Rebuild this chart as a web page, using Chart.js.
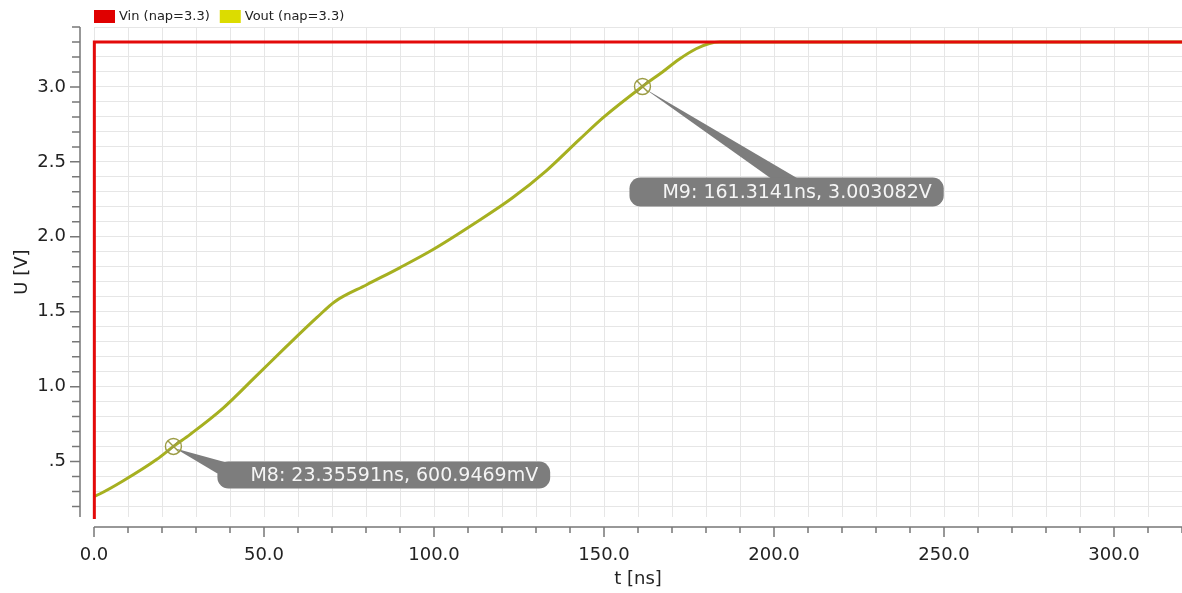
<!DOCTYPE html>
<html>
<head>
<meta charset="utf-8">
<script src="https://cdn.jsdelivr.net/npm/chart.js@4/dist/chart.umd.min.js"></script>
<style>
  html, body { margin: 0; padding: 0; background: #fff; }
  #wrap { width: 1182px; height: 593px; }
</style>
</head>
<body>
<div id="wrap"><canvas id="myChart" width="1182" height="593"></canvas></div>
<script>
// signal data (time in ns, voltage in V)
var vinTime = [0, 0.1, 320];
var vinVolt = [0, 3.3, 3.3];

var voutTime = [0, 1.8, 8.5, 18.5, 23.36, 28.2, 37.9, 47.9, 56.7, 65.5, 70.8, 80.2, 89.9, 99.6, 112,
                123.1, 133, 142.8, 150, 161.3, 167.2, 172.1, 177.1, 181, 184, 200, 250, 320];
var voutVolt = [0.267, 0.285, 0.37, 0.515, 0.601, 0.68, 0.855, 1.075, 1.27, 1.46, 1.567, 1.68, 1.793, 1.913, 2.09,
                2.26, 2.44, 2.65, 2.8, 3.003, 3.1, 3.185, 3.255, 3.29, 3.3, 3.3, 3.3, 3.3];

var seriesLabels = ['Vin (nap=3.3)', 'Vout (nap=3.3)'];

// markers
var markerNames = ['M8', 'M9'];
var markerTime = [23.35591, 161.3141];
var markerVolt = [0.6009469, 3.003082];
var markerText = ['M8: 23.35591ns, 600.9469mV', 'M9: 161.3141ns, 3.003082V'];

function toXY(xs, ys) {
  return xs.map(function (x, i) { return { x: x, y: ys[i] }; });
}

var FONT = '"DejaVu Sans", sans-serif';

var legendPlugin = {
  id: 'topLegend',
  afterDraw: function (chart) {
    var c = chart.ctx;
    var x = chart.chartArea.left;
    c.save();
    c.font = '13px ' + FONT;
    c.textBaseline = 'middle';
    chart.data.datasets.forEach(function (ds) {
      c.fillStyle = ds.legendColor;
      c.fillRect(x, 10, 21, 13);
      c.fillStyle = '#222';
      c.fillText(ds.label, x + 25, 17);
      x += 25 + c.measureText(ds.label).width + 10;
    });
    c.restore();
  }
};

var axisPlugin = {
  id: 'offsetAxes',
  afterDraw: function (chart) {
    var c = chart.ctx, a = chart.chartArea;
    var xs = chart.scales.x, ys = chart.scales.y;
    c.save();
    c.strokeStyle = '#777';
    c.lineWidth = 1.5;
    // y axis
    var ax = a.left - 14;
    c.beginPath();
    c.moveTo(ax, a.top);
    c.lineTo(ax, a.bottom);
    ys.ticks.forEach(function (t) {
      var py = ys.getPixelForValue(t.value);
      var major = Math.abs(t.value * 2 - Math.round(t.value * 2)) < 1e-6;
      c.moveTo(ax - (major ? 10 : 8), py);
      c.lineTo(ax, py);
    });
    c.stroke();
    // x axis
    var ay = a.bottom + 10;
    c.beginPath();
    c.moveTo(a.left, ay);
    c.lineTo(a.right, ay);
    xs.ticks.forEach(function (t) {
      var px = xs.getPixelForValue(t.value);
      var major = Math.abs(t.value % 50) < 1e-6;
      c.moveTo(px, ay);
      c.lineTo(px, ay + (major ? 10 : 6));
    });
    c.stroke();
    c.restore();
  }
};

var markerPlugin = {
  id: 'markers',
  afterDatasetsDraw: function (chart) {
    var c = chart.ctx;
    var xs = chart.scales.x, ys = chart.scales.y;
    c.save();
    c.font = '19px ' + FONT;
    markerNames.forEach(function (name, i) {
      var mx = xs.getPixelForValue(markerTime[i]);
      var my = ys.getPixelForValue(markerVolt[i]);
      var tw = c.measureText(markerText[i]).width;
      var bw = 33 + tw + 12;
      var bh, bx, by, base;
      if (i === 0) {
        bx = mx + 44; by = my + 15; bh = 27;
        base = [[bx, by + 12], [bx + 9, by + 1]];
      } else {
        bx = mx - 13; by = my + 91; bh = 29;
        base = [[bx + 143, by + 2], [bx + 170, by + 2]];
      }
      c.fillStyle = '#7d7d7d';
      // callout wedge
      c.beginPath();
      c.moveTo(mx + 2, my + 2);
      c.lineTo(base[0][0], base[0][1]);
      c.lineTo(base[1][0], base[1][1]);
      c.closePath();
      c.fill();
      // box
      c.beginPath();
      c.roundRect(bx, by, bw, bh, 11);
      c.fill();
      c.fillStyle = '#f5f5f5';
      c.textBaseline = 'middle';
      c.fillText(markerText[i], bx + 33, by + bh / 2 + 1);
      // marker symbol
      c.strokeStyle = '#9c9c45';
      c.lineWidth = 1.4;
      c.beginPath();
      c.arc(mx, my, 8, 0, Math.PI * 2);
      var d = 8 / Math.SQRT2;
      c.moveTo(mx - d, my - d); c.lineTo(mx + d, my + d);
      c.moveTo(mx + d, my - d); c.lineTo(mx - d, my + d);
      c.stroke();
    });
    c.restore();
  }
};

var ctx = document.getElementById('myChart').getContext('2d');

var myChart = new Chart(ctx, {
  type: 'line',
  data: {
    datasets: [{
      label: seriesLabels[0],
      data: toXY(vinTime, vinVolt),
      borderColor: '#e30a0a',
      legendColor: '#e00000',
      borderWidth: 3,
      pointRadius: 0,
      tension: 0,
      clip: { left: 4, top: 2, right: 0, bottom: 2 }
    }, {
      label: seriesLabels[1],
      data: toXY(voutTime, voutVolt),
      borderColor: '#a6b020',
      legendColor: '#dcdc00',
      borderWidth: 3,
      pointRadius: 0,
      cubicInterpolationMode: 'monotone',
      clip: { left: 4, top: 2, right: 0, bottom: 0 }
    }]
  },
  options: {
    responsive: false,
    animation: false,
    layout: { padding: { top: 27, left: 0, right: 0, bottom: 0 } },
    plugins: {
      legend: { display: false },
      tooltip: { enabled: false }
    },
    scales: {
      x: {
        type: 'linear',
        min: 0,
        max: 320,
        afterFit: function (s) { s.height = 76; s.paddingLeft = 0; s.paddingRight = 0; },
        border: { display: false },
        grid: { color: '#e6e6e6', lineWidth: 1, drawTicks: false },
        ticks: {
          stepSize: 10,
          autoSkip: false,
          maxRotation: 0,
          minRotation: 0,
          padding: 28,
          color: '#222',
          font: { family: FONT, size: 18 },
          callback: function (v) {
            return Math.abs(v % 50) < 1e-6 ? v.toFixed(1) : '';
          }
        },
        title: {
          display: true,
          text: 't [ns]',
          color: '#222',
          font: { family: FONT, size: 18 },
          padding: { top: 0, bottom: 3 }
        }
      },
      y: {
        type: 'linear',
        min: 0.13,
        max: 3.4,
        afterFit: function (s) { s.width = 94; s.paddingTop = 0; s.paddingBottom = 0; },
        border: { display: false },
        grid: { color: '#e6e6e6', lineWidth: 1, drawTicks: false },
        ticks: {
          stepSize: 0.1,
          includeBounds: false,
          autoSkip: false,
          padding: 28,
          color: '#222',
          font: { family: FONT, size: 18 },
          callback: function (v) {
            var r = Math.round(v * 10) / 10;
            if (Math.abs(r * 2 - Math.round(r * 2)) > 1e-6) return '';
            return r < 1 ? r.toFixed(1).replace(/^0/, '') : r.toFixed(1);
          }
        },
        title: {
          display: true,
          text: 'U [V]',
          color: '#222',
          font: { family: FONT, size: 18 },
          padding: { top: 12, bottom: 0 }
        }
      }
    }
  },
  plugins: [legendPlugin, axisPlugin, markerPlugin]
});
</script>
</body>
</html>
